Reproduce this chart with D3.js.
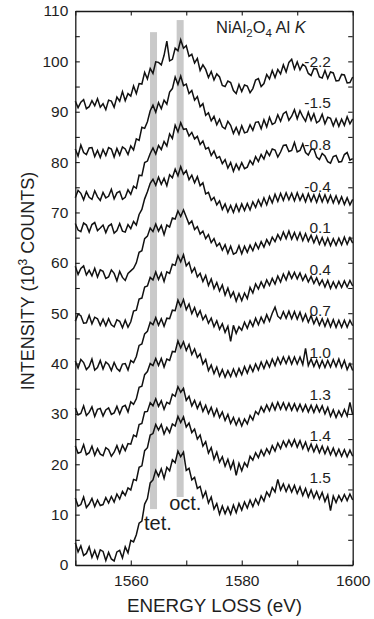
<!DOCTYPE html>
<html><head><meta charset="utf-8">
<script src="https://cdn.jsdelivr.net/npm/d3@7"></script>
<style>
body{margin:0;background:#fff;}
svg{display:block;}
text{font-family:"Liberation Sans",Arial,Helvetica,sans-serif;fill:#1e1e1e;}
</style>
</head><body>
<svg id="chart" width="374" height="619"></svg>
<script>
// ---- data ----
const energyStart = 1550, energyEnd = 1600, energyStep = 0.5;
const seriesLabels = ["-2.2","-1.5","-0.8","-0.4","0.1","0.4","0.7","1.0","1.3","1.4","1.5"];
const xTickValues = [1550,1560,1570,1580,1590,1600];
const xTickLabels = [1560,1580,1600];
const yTickValues = [0,5,10,15,20,25,30,35,40,45,50,55,60,65,70,75,80,85,90,95,100,105,110];
const yTickLabels = [0,10,20,30,40,50,60,70,80,90,100,110];
const markerNames = ["tet.","oct."];
const markerEnergy = [1564.1, 1568.9];
const markerTop = [105.8, 108.2];
const markerBottom = [11.1, 13.5];

const specM22 = [92.1,90.8,91.9,92.4,90.6,91.0,92.2,91.2,92.6,90.9,
 91.6,90.4,92.3,92.1,90.9,92.9,92.1,94.0,92.2,93.6,
 93.1,95.1,93.6,95.6,95.5,97.8,96.5,98.6,97.6,99.9,
 99.8,99.3,101.2,104.0,100.1,100.4,102.6,102.1,104.3,102.6,
 103.1,101.0,101.4,99.7,100.6,98.2,99.3,98.4,96.8,98.0,
 96.3,97.5,96.9,95.2,95.0,96.1,95.8,94.2,93.6,95.4,
 94.0,95.3,95.1,93.8,94.6,96.3,96.6,95.0,95.6,97.4,
 96.5,98.2,96.8,98.4,97.5,99.3,97.9,99.8,100.4,98.5,
 99.9,98.3,99.4,99.0,97.6,97.2,98.6,98.5,96.9,96.7,
 98.2,96.6,97.9,97.7,96.1,96.2,97.4,97.3,95.7,95.8,96.9];
const specM15 = [82.6,81.2,83.4,81.9,81.5,82.8,82.9,81.1,82.3,80.9,
 82.5,81.3,82.9,82.6,81.0,82.7,81.4,83.0,82.6,81.5,
 83.2,82.4,84.6,84.3,86.9,86.7,88.0,90.2,91.3,89.9,
 91.8,90.6,92.3,91.5,93.9,94.6,96.9,95.4,97.1,95.2,
 95.5,93.6,94.2,92.3,93.0,91.0,91.6,89.3,89.8,88.2,
 89.1,87.4,88.5,87.0,86.6,88.1,87.3,85.7,86.9,85.5,
 87.2,85.8,86.0,87.4,86.3,87.9,88.0,86.6,88.4,87.0,
 88.9,87.5,87.8,89.4,88.1,89.6,90.0,88.3,89.1,90.4,
 88.6,90.2,89.0,88.1,89.9,88.3,89.6,87.8,88.2,89.5,
 87.6,88.9,88.7,87.2,88.6,87.1,88.5,87.3,89.0,87.6,88.6];
const specM08 = [72.9,74.4,73.8,72.5,74.1,73.0,72.6,74.3,73.1,72.4,
 74.0,72.9,73.2,74.6,72.7,73.9,74.2,72.6,73.0,74.5,
 73.6,75.2,74.8,77.4,77.3,79.9,80.2,81.7,82.8,81.6,
 83.3,82.5,84.1,83.2,85.6,84.7,87.3,86.0,87.8,86.5,
 86.6,85.2,85.9,84.6,85.1,83.5,84.2,82.6,82.9,81.3,
 82.2,80.8,81.1,79.7,80.5,78.8,79.9,78.2,79.6,78.5,
 79.9,78.7,79.0,80.3,79.5,81.1,80.1,81.5,80.6,82.2,
 81.3,82.6,82.4,81.0,82.0,83.3,83.4,82.1,82.3,83.9,
 82.0,82.3,83.6,81.9,81.4,82.5,82.6,81.0,80.5,81.7,
 81.2,80.1,79.8,81.1,81.3,80.0,80.1,81.5,81.9,80.4,80.7];
const specM04 = [67.8,66.5,66.2,67.9,67.5,66.1,67.6,68.0,66.4,66.9,
 67.5,66.0,67.3,67.7,65.9,66.4,67.8,66.3,66.1,67.6,
 66.8,68.2,67.5,69.6,70.6,72.7,74.1,75.8,76.6,75.4,
 77.0,75.6,76.8,75.3,77.5,76.9,78.6,77.3,79.1,77.6,
 78.3,76.5,77.4,75.9,77.1,75.3,75.9,73.7,74.0,72.4,
 73.0,71.5,72.3,70.6,71.7,70.1,71.4,70.0,71.6,70.2,
 71.7,70.4,71.8,70.5,72.1,71.0,72.5,71.3,72.9,71.5,
 73.2,71.9,73.6,72.2,73.8,72.4,73.9,72.5,73.8,72.3,
 73.9,72.4,73.6,72.1,73.7,72.2,73.5,72.0,73.6,72.1,
 73.5,72.0,73.4,71.9,73.3,71.8,73.1,71.6,72.9,71.5,72.6];
const specP01 = [59.3,57.7,58.9,59.4,57.6,58.5,57.4,58.9,57.2,58.6,
 58.3,56.9,57.2,58.6,57.9,56.4,58.3,57.1,56.5,57.9,
 58.4,58.9,60.0,62.1,62.4,64.8,65.3,66.9,66.2,67.7,
 66.3,67.4,65.6,67.5,67.1,68.9,68.7,70.3,69.2,70.5,
 69.1,67.7,68.3,66.6,67.2,65.7,66.3,64.8,65.6,64.0,
 64.8,63.3,63.9,62.5,63.6,61.9,63.3,61.7,62.0,63.4,
 61.8,63.3,62.1,63.5,62.4,63.9,62.8,64.2,63.1,64.6,
 63.6,65.1,64.2,65.6,64.6,66.1,64.8,66.3,64.7,66.0,
 64.6,66.0,64.4,65.8,64.3,65.5,64.0,65.3,63.7,65.0,
 63.5,64.9,63.4,64.8,63.5,64.9,63.6,65.1,63.7,65.0,63.9];
const specP04 = [48.4,49.8,49.5,48.0,48.1,49.6,47.9,49.2,48.9,47.6,
 48.8,47.5,48.9,47.7,47.3,48.7,48.4,47.1,48.6,47.2,
 48.3,50.4,50.6,52.8,53.0,55.2,55.4,57.1,56.6,58.2,
 56.7,58.0,56.3,58.2,57.9,59.7,59.5,61.4,60.2,61.6,
 59.4,60.1,58.1,59.0,57.2,57.9,56.3,57.5,55.5,56.8,
 54.9,56.1,54.4,55.6,53.6,55.0,53.2,54.2,52.4,53.9,
 52.5,54.0,52.9,55.1,54.0,55.8,54.8,56.2,55.1,56.6,
 55.5,56.9,55.8,57.4,56.2,57.8,56.6,58.2,56.9,58.1,
 56.8,58.0,56.5,57.6,56.2,57.3,55.9,57.0,55.6,56.6,
 55.2,56.5,54.9,56.2,55.0,56.3,55.1,56.4,55.2,56.5,55.4];
const specP07 = [40.5,39.1,40.8,40.2,38.8,39.4,40.9,38.7,39.2,40.6,
 38.9,40.3,39.8,38.6,40.2,39.0,38.5,39.9,40.0,38.7,
 40.6,40.2,41.4,43.6,43.9,45.9,46.4,48.2,47.7,49.1,
 47.6,48.9,47.4,49.0,48.9,50.6,50.5,52.6,51.3,52.7,
 50.7,51.8,49.9,51.1,49.4,50.5,48.7,49.6,48.0,49.0,
 47.3,48.5,46.8,47.9,46.2,47.4,44.4,47.6,46.0,47.3,
 46.6,48.2,47.0,48.5,47.4,49.0,47.7,49.2,48.1,49.7,
 48.4,50.0,51.2,49.4,48.9,50.3,49.0,50.4,48.9,50.3,
 48.8,50.2,48.5,49.8,48.2,49.5,47.9,49.1,47.6,48.9,
 47.4,48.8,47.3,48.7,47.2,48.6,47.2,48.6,47.2,48.6,47.5];
const specP10 = [31.2,29.8,30.1,31.6,29.7,30.3,31.4,29.5,30.9,31.1,
 29.6,30.8,31.2,29.9,30.2,31.5,30.0,31.4,31.7,30.4,
 32.4,31.9,33.0,35.3,35.5,37.8,38.4,40.0,39.6,41.0,
 39.6,41.0,39.3,40.9,40.6,42.4,42.3,44.5,43.1,44.3,
 42.6,43.8,41.8,42.9,41.2,41.9,39.9,40.8,38.6,39.7,
 38.0,39.3,37.5,38.8,37.3,38.6,37.4,38.9,37.5,39.0,
 37.8,39.4,38.1,39.6,38.4,39.9,38.7,40.3,39.0,40.5,
 39.3,40.9,39.6,41.2,39.9,41.3,40.0,41.4,39.9,41.3,
 39.9,41.3,39.8,43.0,39.6,40.9,39.4,40.7,39.2,40.6,
 39.2,40.6,39.3,40.8,39.4,40.9,39.2,40.6,38.8,40.0,38.6];
const specP13 = [23.7,22.2,22.4,23.9,21.9,22.3,23.6,21.8,23.1,22.0,
 21.7,23.3,22.9,21.6,22.4,23.7,22.2,23.8,22.7,24.1,
 24.0,25.8,25.5,27.9,28.1,30.4,30.5,32.2,31.6,33.0,
 31.5,32.6,30.9,32.3,32.0,33.9,33.5,35.4,34.3,35.1,
 32.7,33.5,31.6,32.7,31.1,32.3,30.5,31.7,30.1,31.3,
 29.6,31.0,29.3,30.4,28.7,29.9,28.1,29.3,27.8,29.1,
 27.6,29.0,28.0,29.7,28.8,30.5,29.9,31.4,30.4,31.8,
 30.6,32.1,30.8,32.3,30.9,32.2,30.8,32.1,30.7,32.0,
 30.6,31.9,30.5,31.8,30.4,31.7,30.3,31.7,30.4,31.6,
 30.0,31.3,29.5,30.8,29.3,30.6,29.5,30.9,29.6,32.3,29.8];
const specP14 = [13.3,11.7,12.0,13.5,11.4,12.1,13.2,11.6,12.9,11.8,
 12.0,13.4,12.3,13.6,12.5,14.1,13.1,14.6,13.8,15.3,
 14.9,17.0,16.8,19.4,19.7,22.7,23.3,25.8,26.1,27.9,
 26.8,27.9,26.0,27.3,26.3,28.0,27.6,29.5,28.3,29.4,
 27.4,28.2,26.3,27.0,25.0,25.8,23.6,24.5,22.2,23.3,
 21.0,22.4,20.4,21.5,19.6,21.0,19.1,20.6,17.8,20.2,
 18.7,20.3,19.5,21.6,20.8,22.3,21.3,22.8,21.7,23.1,
 22.1,23.7,22.6,24.2,23.1,24.6,23.5,24.8,23.6,24.9,
 23.4,24.7,23.1,24.4,22.7,24.0,22.5,23.8,22.3,23.6,
 22.1,23.4,21.9,23.2,21.7,23.0,21.6,22.9,21.5,22.8,21.6];
const specP15 = [4.4,2.6,3.8,1.9,2.3,3.6,1.5,2.9,1.3,3.0,
 2.7,0.9,2.5,1.2,0.8,2.6,2.9,1.4,3.6,2.4,
 4.9,4.6,6.0,8.3,8.7,12.1,13.2,16.3,16.9,18.8,
 17.6,19.1,17.2,19.4,18.7,20.9,20.3,22.6,21.5,22.4,
 18.8,19.2,16.9,17.4,15.2,15.6,13.4,14.6,12.3,13.5,
 11.1,12.2,10.1,11.7,10.2,11.5,10.1,11.9,10.4,12.2,
 10.9,12.5,11.3,12.9,11.6,13.1,12.0,13.7,12.7,14.5,
 13.6,15.4,14.5,17.0,14.9,16.1,14.6,15.9,14.5,15.8,
 14.2,15.5,13.8,15.2,13.5,14.9,13.3,14.6,13.1,14.4,
 12.6,13.9,10.8,13.7,12.4,13.8,12.7,14.0,12.8,14.1,12.9];
const spectra = [specM22,specM15,specM08,specM04,specP01,specP04,specP07,specP10,specP13,specP14,specP15];

// ---- drawing ----
const svg = d3.select("#chart");
const x = d3.scaleLinear().domain([energyStart, energyEnd]).range([75.3, 352.7]);
const y = d3.scaleLinear().domain([0, 110]).range([565, 11]);
const energies = d3.range(0, specM22.length).map(i => energyStart + i * energyStep);

const ink = "#1a1a1a";
const tickFont = "15.5px";

// gray marker bars
svg.append("g").selectAll("rect").data(markerEnergy).join("rect")
  .attr("x", (d) => x(d) - 3.5)
  .attr("width", 7)
  .attr("y", (d, i) => y(markerTop[i]))
  .attr("height", (d, i) => y(markerBottom[i]) - y(markerTop[i]))
  .attr("fill", "#c9c9c9");

// spectra
const line = d3.line().x((d, i) => x(energies[i])).y(d => y(d));
svg.append("g").selectAll("path").data(spectra).join("path")
  .attr("d", d => line(d))
  .attr("fill", "none")
  .attr("stroke", "#111")
  .attr("stroke-width", 1.5)
  .attr("stroke-linejoin", "miter");

// axes (frame with inward ticks)
function styleAxis(g) {
  g.selectAll("path.domain").attr("stroke", ink).attr("stroke-width", 1.3);
  g.selectAll(".tick line").attr("stroke", ink).attr("stroke-width", 1.1);
  g.selectAll("text").attr("font-size", tickFont).attr("fill", ink)
    .attr("font-family", '"Liberation Sans", Arial, sans-serif');
}
const yLab = new Set(yTickLabels);
svg.append("g").attr("transform", `translate(${x(energyStart)},0)`)
  .call(d3.axisLeft(y).tickValues(yTickValues).tickSizeInner(-4.5).tickSizeOuter(0).tickPadding(7)
    .tickFormat(v => yLab.has(v) ? String(v) : ""))
  .call(styleAxis);
svg.append("g").attr("transform", `translate(${x(energyEnd)},0)`)
  .call(d3.axisRight(y).tickValues(yTickValues).tickSizeInner(-4.5).tickSizeOuter(0).tickFormat(""))
  .call(styleAxis);
const xLab = new Set(xTickLabels);
svg.append("g").attr("transform", `translate(0,${y(0)})`)
  .call(d3.axisBottom(x).tickValues(xTickValues).tickSizeInner(-4.5).tickSizeOuter(0).tickPadding(10)
    .tickFormat(v => xLab.has(v) ? String(v) : ""))
  .call(styleAxis);
svg.append("g").attr("transform", `translate(0,${y(110)})`)
  .call(d3.axisTop(x).tickValues(xTickValues).tickSizeInner(-4.5).tickSizeOuter(0).tickFormat(""))
  .call(styleAxis);

// series labels
svg.append("g").selectAll("text").data(seriesLabels).join("text")
  .attr("x", 331)
  .attr("y", (d, i) => 66.7 + i * 41.6)
  .attr("text-anchor", "end")
  .attr("font-size", "15.5px")
  .attr("fill", ink)
  .text(d => d);

// marker labels
svg.append("text").attr("x", x(markerEnergy[0]) - 9.5).attr("y", 530)
  .attr("font-size", "20px").attr("fill", ink).text(markerNames[0]);
svg.append("text").attr("x", x(markerEnergy[1]) - 11).attr("y", 510)
  .attr("font-size", "20px").attr("fill", ink).text(markerNames[1]);

// title
const t = svg.append("text").attr("x", 216).attr("y", 33).attr("font-size", "16.5px").attr("fill", ink);
t.append("tspan").text("NiAl");
t.append("tspan").attr("font-size", "11.5px").attr("dy", 4).text("2");
t.append("tspan").attr("dy", -4).text("O");
t.append("tspan").attr("font-size", "11.5px").attr("dy", 4).text("4");
t.append("tspan").attr("dy", -4).text(" Al ");
t.append("tspan").attr("font-style", "italic").text("K");

// axis titles
svg.append("text").attr("x", 214.5).attr("y", 611.5).attr("text-anchor", "middle")
  .attr("font-size", "18px").attr("fill", ink).attr("textLength", 175).attr("lengthAdjust", "spacingAndGlyphs")
  .text("ENERGY LOSS (eV)");
const yt = svg.append("text").attr("transform", "translate(34,281) rotate(-90)")
  .attr("text-anchor", "middle").attr("font-size", "18px").attr("fill", ink);
yt.append("tspan").text("INTENSITY (10");
yt.append("tspan").attr("font-size", "12px").attr("dy", -7).text("3");
yt.append("tspan").attr("dy", 7).text(" COUNTS)");
</script>
</body></html>
